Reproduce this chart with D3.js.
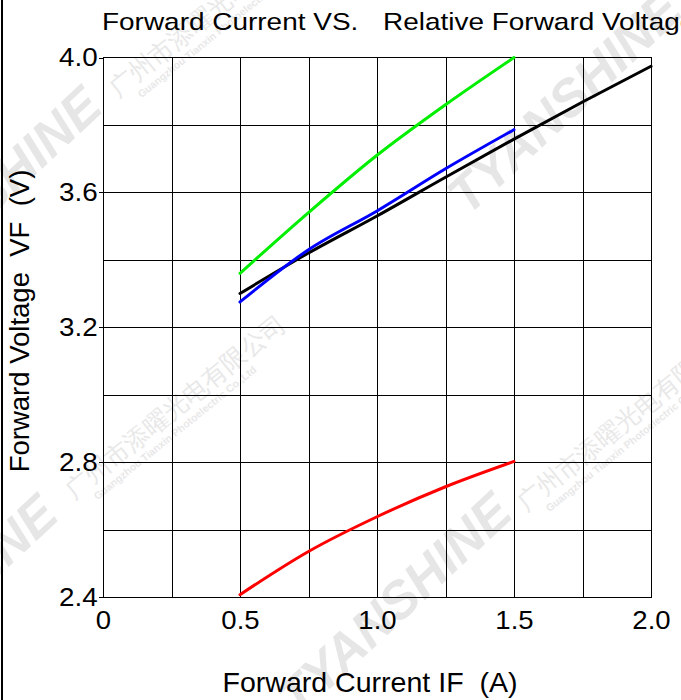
<!DOCTYPE html>
<html>
<head>
<meta charset="utf-8">
<script src="https://cdn.jsdelivr.net/npm/d3@7"></script>
<style>
  html, body { margin: 0; padding: 0; background: #fff; }
  svg { display: block; }
  text { font-family: "Liberation Sans", Arial, sans-serif; white-space: pre; }
</style>
</head>
<body>
<svg id="chart" width="681" height="700"></svg>
<script>
// Forward current (A) sample points
const currentShort = [0.5, 0.75, 1.0, 1.25, 1.5];
const currentLong = [0.5, 0.75, 1.0, 1.25, 1.5, 1.75, 2.0];

// Forward voltage (V) per curve
const greenVF = [3.36, 3.54, 3.71, 3.86, 4.0];
const blueVF = [3.275, 3.43, 3.545, 3.67, 3.786];
const blackVF = [3.30, 3.42, 3.53, 3.645, 3.758, 3.868, 3.974];
const redVF = [2.407, 2.535, 2.638, 2.727, 2.802];

// Axis ticks
const xTicks = [0, 0.5, 1.0, 1.5, 2.0];
const yTicks = [2.4, 2.8, 3.2, 3.6, 4.0];
const xGrid = [0.25, 0.5, 0.75, 1.0, 1.25, 1.5, 1.75];
const yGrid = [2.6, 2.8, 3.0, 3.2, 3.4, 3.6, 3.8];

const titleParts = ["Forward Current VS.", "Relative Forward Voltage"];
const xTitle = "Forward Current IF  (A)";
const yTitle = "Forward Voltage  VF  (V)";

const svg = d3.select("#chart");
const W = 681, H = 700;
const plot = { left: 103, right: 651, top: 57.5, bottom: 597 };

svg.append("rect").attr("width", W).attr("height", H).attr("fill", "#fff");

// Company watermark
const wm = svg.append("g").attr("class", "watermark");
const logos = [[-16, 198], [-60, 606], [394, 604], [564, 102]];
logos.forEach(([cx, cy]) => {
  wm.append("text")
    .attr("transform", `translate(${cx},${cy}) rotate(-43)`)
    .attr("text-anchor", "middle")
    .attr("dy", "0.35em")
    .attr("font-size", 52)
    .attr("font-weight", "bold")
    .attr("font-style", "italic")
    .attr("fill", "#e6e6e6")
    .text("TYANSHINE");
});
const marks = [[74, 500], [118, 98], [526, 512]];
marks.forEach(([x, y]) => {
  const g = wm.append("g").attr("transform", `translate(${x},${y}) rotate(-39)`);
  g.append("text")
    .attr("font-family", "'Noto Sans CJK SC', sans-serif")
    .attr("font-size", 25)
    .attr("fill", "#e8e8e8")
    .text("广州市添曜光电有限公司");
  g.append("text")
    .attr("x", 18).attr("y", 15)
    .attr("font-size", 10.5)
    .attr("font-weight", "bold")
    .attr("fill", "#e8e8e8")
    .text("Guangzhou Tianxin Photoelectric Co.,Ltd");
});

// Scales
const x = d3.scaleLinear().domain([0, 2.0]).range([plot.left, plot.right]);
const y = d3.scaleLinear().domain([2.4, 4.0]).range([plot.bottom, plot.top]);

// Page frame line on the left
svg.append("line")
  .attr("x1", 2).attr("x2", 2).attr("y1", 0).attr("y2", H)
  .attr("stroke", "#000").attr("stroke-width", 2);

// Grid
const grid = svg.append("g").attr("stroke", "#000").attr("stroke-width", 1).attr("shape-rendering", "crispEdges");
grid.selectAll(".gx").data(xGrid).join("line")
  .attr("x1", d => Math.round(x(d)) + 0.5).attr("x2", d => Math.round(x(d)) + 0.5)
  .attr("y1", plot.top).attr("y2", plot.bottom);
grid.selectAll(".gy").data(yGrid).join("line")
  .attr("x1", plot.left).attr("x2", plot.right)
  .attr("y1", d => Math.round(y(d)) + 0.5).attr("y2", d => Math.round(y(d)) + 0.5);
grid.append("rect")
  .attr("x", plot.left).attr("y", plot.top)
  .attr("width", plot.right - plot.left).attr("height", plot.bottom - plot.top)
  .attr("fill", "none");

// Axes
const yAxis = d3.axisLeft(y).tickValues(yTicks).tickSize(4).tickPadding(1)
  .tickFormat(d3.format(".1f"));
const gy = svg.append("g").attr("transform", `translate(${plot.left},0)`).call(yAxis);
gy.select(".domain").remove();
gy.selectAll(".tick line").attr("stroke", "#000").attr("shape-rendering", "crispEdges");
gy.selectAll(".tick text").attr("font-size", 26).attr("fill", "#000")
  .attr("font-family", "'Liberation Sans', Arial, sans-serif")
  .attr("transform", "scale(1.07,1)");

const xAxis = d3.axisBottom(x).tickValues(xTicks).tickSize(0).tickPadding(14)
  .tickFormat(d => d === 0 ? "0" : d3.format(".1f")(d));
const gx = svg.append("g").attr("transform", `translate(0,${plot.bottom})`).call(xAxis);
gx.select(".domain").remove();
gx.selectAll(".tick text").attr("font-size", 25.5).attr("fill", "#000")
  .attr("font-family", "'Liberation Sans', Arial, sans-serif")
  .attr("transform", "scale(1.08,1)");

// Curves
const line = d3.line().x(d => x(d[0])).y(d => y(d[1])).curve(d3.curveMonotoneX);
const series = [
  { xs: currentShort, ys: greenVF, color: "#00ee00" },
  { xs: currentLong, ys: blackVF, color: "#000000" },
  { xs: currentShort, ys: blueVF, color: "#0000ff" },
  { xs: currentShort, ys: redVF, color: "#ff0000" }
];
series.forEach(s => {
  svg.append("path")
    .datum(s.xs.map((v, i) => [v, s.ys[i]]))
    .attr("d", line)
    .attr("fill", "none")
    .attr("stroke", s.color)
    .attr("stroke-width", 3)
    .attr("stroke-linecap", "round");
});

// Titles
const titleScale = 1.165;
const title = svg.append("text").attr("transform", `translate(102,30) scale(${titleScale},1)`)
  .attr("font-size", 24).attr("fill", "#000");
title.append("tspan").attr("x", 0).text(titleParts[0]);
title.append("tspan").attr("x", (383 - 102) / titleScale).text(titleParts[1]);

svg.append("text").attr("transform", "translate(370,692) scale(1.02,1)")
  .attr("text-anchor", "middle").attr("font-size", 28).attr("fill", "#000").text(xTitle);
svg.append("text").attr("transform", "translate(29,321) rotate(-90)")
  .attr("text-anchor", "middle").attr("font-size", 27.5).attr("fill", "#000").text(yTitle);
</script>
</body>
</html>
